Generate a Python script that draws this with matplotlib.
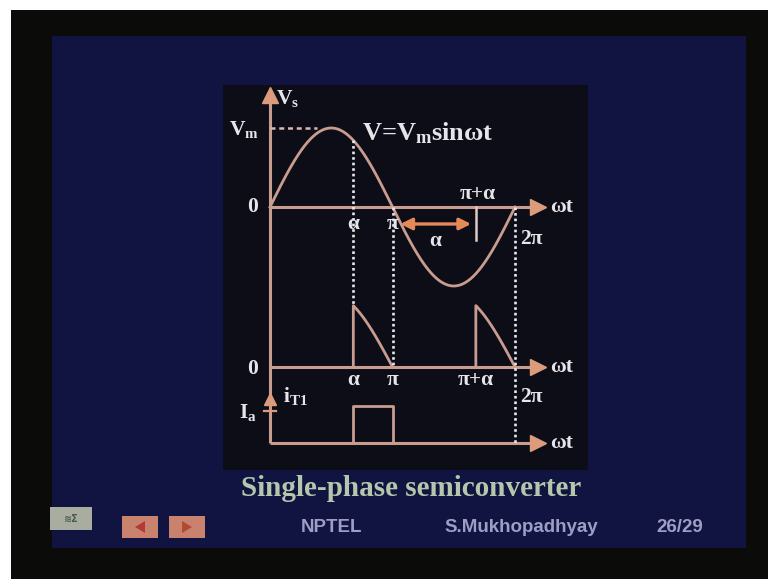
import numpy as np
import matplotlib
matplotlib.use("Agg")
import matplotlib.pyplot as plt
from matplotlib.patches import Rectangle, Polygon

# ---- waveform quantities (angles in radians, amplitudes in units of Vm) ----
VM = 1.0                     # supply peak
FIRING_ANGLE = 0.68 * np.pi  # alpha
V0_PEAK = 0.92               # output-voltage trace scale
IA = 0.47                    # thyristor current level
AXIS_END = 7.0               # where the omega-t arrows stop

top_axis_labels = ["α", "π"]
mid_axis_labels = ["α", "π", "π+α"]
title_text = "Single-phase semiconverter"
footer_texts = ["NPTEL", "S.Mukhopadhyay", "26/29"]

# ---- colours ----
FRAME = "#0b0c09"
SLIDE = "#111341"
PANEL = "#0d0d17"
LINE = "#c99c90"
HEAD = "#dc9c7c"
ORANGE = "#e48a58"
TXT = "#e6e6ea"
DOT = "#e8e8ec"

W, H = 768, 579
fig = plt.figure(figsize=(W / 100, H / 100), dpi=100, facecolor=FRAME)

# ---- slide background ----
bg = fig.add_axes([0, 0, 1, 1])
bg.set_xlim(0, W)
bg.set_ylim(H, 0)
bg.axis("off")
bg.add_patch(Rectangle((0, 0), W, 10, color="white", lw=0))
bg.add_patch(Rectangle((0, 0), 11, H, color="white", lw=0))
bg.add_patch(Rectangle((52, 36), 694, 512, color=SLIDE, lw=0))
bg.add_patch(Rectangle((223, 85), 365, 385, color=PANEL, lw=0))

bg.text(411, 488, title_text, ha="center", va="center", color="#b4c6ac",
        fontsize=21, fontweight="bold", family="Liberation Serif")

# footer controls
bg.add_patch(Rectangle((50, 507), 42, 23, color="#a9ad9f", lw=0))
bg.text(71, 519, "≋Σ", ha="center", va="center", color="#4a5a50", fontsize=7,
        fontweight="bold")
bg.add_patch(Rectangle((122, 516), 36, 22, color="#c9826e", lw=0))
bg.add_patch(Rectangle((169, 516), 36, 22, color="#c9826e", lw=0))
bg.add_patch(Polygon([[135, 527], [145, 521], [145, 533]], color="#b23a3a", lw=0))
bg.add_patch(Polygon([[192, 527], [182, 521], [182, 533]], color="#b04a30", lw=0))
for x, s in zip([331, 521, 680], footer_texts):
    bg.text(x, 527, s, ha="center", va="center", color="#9d9dc6",
            fontsize=13.5, fontweight="bold", family="Liberation Sans")

# ---- waveform diagram ----
# pixel geometry of the drawing area
X0_PX, PX_PER_RAD = 270.0, 39.0
Y0_PX, PX_PER_UNIT = 207.0, 79.0
L, R, T, B = 223, 588, 85, 470
ax = fig.add_axes([L / W, 1 - B / H, (R - L) / W, (B - T) / H])
ax.set_facecolor(PANEL)
ax.set_xlim((L - X0_PX) / PX_PER_RAD, (R - X0_PX) / PX_PER_RAD)
ax.set_ylim(-(B - Y0_PX) / PX_PER_UNIT, (Y0_PX - T) / PX_PER_UNIT)
ax.axis("off")

BASE1 = 0.0
BASE2 = -(367 - Y0_PX) / PX_PER_UNIT
BASE3 = -(443 - Y0_PX) / PX_PER_UNIT
a = FIRING_ANGLE
lw_axis = 2.2

# vertical axis with arrow
ax.plot([0, 0], [BASE3, 1.40], color=LINE, lw=lw_axis, solid_capstyle="butt")
ax.plot([0], [1.42], marker="^", ms=11, color=HEAD, mec=HEAD)
# small arrow for the current trace
ax.plot([0], [BASE3 + 0.56], marker="^", ms=8, color=HEAD, mec=HEAD)
ax.plot([-0.15, 0.15], [BASE3 + 0.41, BASE3 + 0.41], color=HEAD, lw=1.6)

# horizontal axes
for base in (BASE1, BASE2, BASE3):
    ax.plot([0, AXIS_END - 0.15], [base, base], color=LINE, lw=lw_axis,
            solid_capstyle="butt")
    ax.plot([AXIS_END - 0.12], [base], marker=">", ms=12, color=HEAD, mec=HEAD)

# supply voltage
wt = np.linspace(0, 2 * np.pi, 400)
ax.plot(wt, VM * np.sin(wt), color=LINE, lw=2.0)
ax.plot([0, 1.2], [VM, VM], color="#d9b8ae", lw=1.8, ls=(0, (2, 1.5)))

# output voltage segments
for start in (a, np.pi + a):
    seg = np.linspace(start, start + (np.pi - a), 100)
    yv = BASE2 + V0_PEAK * np.abs(np.sin(seg))
    ax.plot(np.r_[start, seg], np.r_[BASE2, yv], color=LINE, lw=2.0)

# thyristor current pulse
ax.plot([a, a, np.pi, np.pi], [BASE3, BASE3 + IA, BASE3 + IA, BASE3],
        color=LINE, lw=2.0)

# dotted projection lines
dot_style = dict(color=DOT, lw=1.9, ls=(0, (1, 1.1)))
ax.plot([a, a], [VM * np.sin(a), BASE2 + V0_PEAK * np.sin(a)], **dot_style)
ax.plot([np.pi, np.pi], [BASE1, BASE2], **dot_style)
ax.plot([2 * np.pi, 2 * np.pi], [BASE1, BASE3], **dot_style)

# pi+alpha marker and alpha span arrow
ax.plot([np.pi + a, np.pi + a], [0, -0.42], color="#e0c8c4", lw=1.8)
ax.annotate("", xy=(np.pi + a - 0.12, -0.215), xytext=(np.pi + 0.2, -0.215),
            arrowprops=dict(arrowstyle="<|-|>", color=ORANGE, lw=2.4,
                            mutation_scale=17, shrinkA=0, shrinkB=0))

serif = dict(family="Liberation Serif", fontweight="bold", color=TXT)
fs = 15.5

ax.text(0.45, 1.37, r"V$\mathregular{_s}$", ha="center", va="center", fontsize=fs, **serif)
ax.text(-0.66, 0.98, r"V$\mathregular{_m}$", ha="center", va="center", fontsize=fs, **serif)
ax.text(2.36, 0.93, r"V=V$\mathregular{_m}$sinωt", ha="left", va="center",
        fontsize=19, **serif)
ax.text(-0.44, BASE1, "0", ha="center", va="center", fontsize=fs, **serif)
ax.text(-0.44, BASE2 - 0.03, "0", ha="center", va="center", fontsize=fs, **serif)

ax.text(np.pi + a + 0.05, 0.17, "π+α", ha="center", va="center", fontsize=fs, **serif)
for lab, xv in zip(top_axis_labels, [a, np.pi]):
    ax.text(xv, -0.215, lab, ha="center", va="center", fontsize=fs, **serif)
ax.text((np.pi + 0.2 + np.pi + a - 0.12) / 2, -0.43, "α", ha="center", va="center",
        fontsize=fs, **serif)
ax.text(2 * np.pi + 0.12, -0.40, "2π", ha="left", va="center", fontsize=fs, **serif)

for lab, xv in zip(mid_axis_labels, [a, np.pi, np.pi + a]):
    ax.text(xv, BASE2 - 0.16, lab, ha="center", va="center", fontsize=fs, **serif)
ax.text(2 * np.pi + 0.12, BASE2 - 0.38, "2π", ha="left", va="center", fontsize=fs, **serif)

for base in (BASE1, BASE2, BASE3):
    ax.text(AXIS_END + 0.18, base, "ωt", ha="left", va="center", fontsize=fs, **serif)

ax.text(0.33, BASE3 + 0.59, r"i$\mathregular{_{T1}}$", ha="left", va="center",
        fontsize=fs, **serif)
ax.text(-0.56, BASE3 + 0.39, r"I$\mathregular{_a}$", ha="center", va="center",
        fontsize=fs, **serif)

fig.savefig("out.png", dpi=100, facecolor=FRAME)
